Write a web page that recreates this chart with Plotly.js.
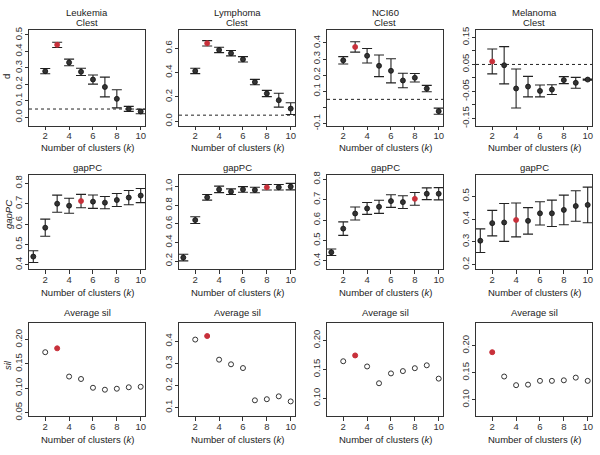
<!DOCTYPE html>
<html><head><meta charset="utf-8">
<script src="https://cdn.plot.ly/plotly-3.0.1.min.js"></script>
<style>html,body{margin:0;padding:0;background:#fff}#chart{width:600px;height:455px}</style>
</head><body><div id="chart"></div>
<script>
const datasets = ['Leukemia', 'Lymphoma', 'NCI60', 'Melanoma'];
const kClest = [2, 3, 4, 5, 6, 7, 8, 9, 10];
const kGap = [1, 2, 3, 4, 5, 6, 7, 8, 9, 10];
const kSil = [2, 3, 4, 5, 6, 7, 8, 9, 10];

// Clest statistic d (with error half-widths)
const leuClest = [0.28, 0.44, 0.333, 0.276, 0.229, 0.184, 0.112, 0.051, 0.035];
const leuClestErr = [0.016, 0.016, 0.02, 0.022, 0.028, 0.06, 0.055, 0.015, 0.014];
const lymClest = [0.413, 0.641, 0.586, 0.559, 0.509, 0.322, 0.228, 0.173, 0.104];
const lymClestErr = [0.022, 0.022, 0.022, 0.022, 0.022, 0.022, 0.026, 0.057, 0.048];
const nciClest = [0.292, 0.375, 0.32, 0.258, 0.227, 0.167, 0.184, 0.117, -0.023];
const nciClestErr = [0.023, 0.032, 0.045, 0.067, 0.075, 0.045, 0.026, 0.02, 0.019];
const melClest = [0.061, 0.047, -0.039, -0.032, -0.048, -0.043, -0.008, -0.018, -0.006];
const melClestErr = [0.046, 0.069, 0.072, 0.038, 0.022, 0.018, 0.013, 0.02, 0.002];
const clestThreshold = [0.05, 0.05, 0.05, 0.05];

// gapPC statistic
const leuGap = [0.44, 0.582, 0.70, 0.69, 0.713, 0.71, 0.705, 0.718, 0.73, 0.74];
const leuGapErr = [0.029, 0.042, 0.042, 0.037, 0.033, 0.033, 0.03, 0.032, 0.035, 0.035];
const lymGap = [0.237, 0.64, 0.885, 0.97, 0.946, 0.97, 0.964, 0.993, 0.993, 1.0];
const lymGapErr = [0.036, 0.036, 0.03, 0.035, 0.03, 0.03, 0.03, 0.03, 0.03, 0.035];
const nciGap = [0.442, 0.558, 0.632, 0.657, 0.665, 0.693, 0.688, 0.704, 0.729, 0.729];
const nciGapErr = [0.016, 0.033, 0.032, 0.029, 0.032, 0.031, 0.031, 0.031, 0.029, 0.03];
const melGap = [0.305, 0.382, 0.385, 0.396, 0.392, 0.425, 0.425, 0.44, 0.457, 0.462];
const melGapErr = [0.052, 0.056, 0.083, 0.074, 0.058, 0.051, 0.058, 0.065, 0.067, 0.078];

// Average silhouette width
const leuSil = [0.174, 0.182, 0.124, 0.119, 0.101, 0.097, 0.099, 0.102, 0.103];
const lymSil = [0.408, 0.424, 0.317, 0.296, 0.279, 0.133, 0.138, 0.151, 0.128];
const nciSil = [0.164, 0.174, 0.155, 0.126, 0.143, 0.147, 0.152, 0.157, 0.134];
const melSil = [0.188, 0.143, 0.127, 0.128, 0.135, 0.135, 0.136, 0.141, 0.135];

// selected number of clusters (highlighted in red)
const bestClest = [3, 3, 3, 2];
const bestGap = [5, 8, 8, 4];
const bestSil = [3, 3, 3, 2];

// axis settings
const xTicks = [2, 4, 6, 8, 10];
const xRange = [0.64, 10.36];
const clestRanges = [[-0.05, 0.53], [-0.035, 0.75], [-0.112, 0.48], [-0.176, 0.1775]];
const clestTicks = [[0, 0.1, 0.2, 0.3, 0.4, 0.5], [0, 0.2, 0.4, 0.6], [-0.1, 0, 0.1, 0.2, 0.3, 0.4], [-0.15, -0.1, -0.05, 0, 0.05, 0.1, 0.15]];
const clestTickText = [['0.0', '0.1', '0.2', '0.3', '0.4', '0.5'], ['0.0', '0.2', '0.4', '0.6'], ['-0.1', '', '0.1', '0.2', '0.3', '0.4'], ['-0.15', '', '-0.05', '', '0.05', '', '0.15']];
const gapRanges = [[0.379, 0.841], [0.114, 1.125], [0.36, 0.821], [0.181, 0.593]];
const gapTicks = [[0.4, 0.5, 0.6, 0.7, 0.8], [0.2, 0.4, 0.6, 0.8, 1.0], [0.4, 0.5, 0.6, 0.7, 0.8], [0.2, 0.3, 0.4, 0.5, 0.6]];
const gapTickText = [['0.4', '0.5', '0.6', '0.7', '0.8'], ['0.2', '0.4', '0.6', '0.8', '1.0'], ['0.4', '0.5', '0.6', '0.7', '0.8'], ['0.2', '0.3', '0.4', '0.5', '0.6']];
const silRanges = [[0.043, 0.234], [0.062, 0.483], [0.0695, 0.23], [0.07, 0.242]];
const silTicks = [[0.05, 0.1, 0.15, 0.2, 0.25], [0.1, 0.2, 0.3, 0.4], [0.1, 0.15, 0.2], [0.1, 0.15, 0.2, 0.25]];
const silTickText = [['0.05', '0.10', '0.15', '0.20', '0.25'], ['0.1', '0.2', '0.3', '0.4'], ['0.10', '0.15', '0.20'], ['0.10', '0.15', '0.20', '0.25']];

const clestVals = [leuClest, lymClest, nciClest, melClest];
const clestErrs = [leuClestErr, lymClestErr, nciClestErr, melClestErr];
const gapVals = [leuGap, lymGap, nciGap, melGap];
const gapErrs = [leuGapErr, lymGapErr, nciGapErr, melGapErr];
const silVals = [leuSil, lymSil, nciSil, melSil];

// layout geometry (pixels)
const W = 600, H = 455;
const colLeft = [29, 179, 327, 476];
const panelW = 116;
const rowTop = [30, 175, 323];
const rowBottom = [125.5, 269, 416];

const RED = '#c8303a';
const DARK = '#333333';
const FONT = '"Liberation Sans", Arial, sans-serif';
const TICKFONT = {family: FONT, size: 9.5, color: DARK};
const TITLEFONT = {family: FONT, size: 9.5, color: '#222'};

const traces = [];
const layout = {
  width: W, height: H,
  margin: {l: 0, r: 0, t: 0, b: 0},
  paper_bgcolor: '#fff', plot_bgcolor: '#fff',
  showlegend: false,
  font: {family: FONT, size: 9.5, color: DARK},
  annotations: [], shapes: []
};

function axisName(idx, letter) { return letter + 'axis' + (idx === 1 ? '' : idx); }
function axisRef(idx, letter) { return letter + (idx === 1 ? '' : idx); }

const rowsData = [
  {k: kClest, vals: clestVals, errs: clestErrs, best: bestClest, ranges: clestRanges, ticks: clestTicks, text: clestTickText, open: false},
  {k: kGap, vals: gapVals, errs: gapErrs, best: bestGap, ranges: gapRanges, ticks: gapTicks, text: gapTickText, open: false},
  {k: kSil, vals: silVals, errs: null, best: bestSil, ranges: silRanges, ticks: silTicks, text: silTickText, open: true}
];

rowsData.forEach((row, r) => {
  for (let c = 0; c < 4; c++) {
    const idx = r * 4 + c + 1;
    const xa = axisRef(idx, 'x'), ya = axisRef(idx, 'y');
    const colors = row.k.map(k => k === row.best[c] ? RED : DARK);
    const symbols = row.k.map(k => row.open ? (k === row.best[c] ? 'circle' : 'circle-open') : 'circle');
    const tr = {
      type: 'scatter', mode: 'markers', x: row.k, y: row.vals[c],
      xaxis: xa, yaxis: ya,
      marker: {size: 5, color: colors, symbol: symbols,
               line: {width: row.open ? 1 : 0.8, color: row.open ? colors : row.k.map(k => k === row.best[c] ? RED : '#111')}},
      hoverinfo: 'x+y'
    };
    if (row.errs) {
      tr.error_y = {type: 'data', array: row.errs[c], visible: true, color: '#222', thickness: 1.1, width: 5};
    }
    traces.push(tr);

    layout[axisName(idx, 'x')] = {
      domain: [colLeft[c] / W, (colLeft[c] + panelW) / W],
      anchor: ya, range: xRange, tickvals: xTicks, ticktext: xTicks.map(String),
      ticks: 'outside', ticklen: 3.5, tickwidth: 1, tickcolor: '#333',
      ticklabelstandoff: -2,
      showline: true, mirror: true, linecolor: '#333', linewidth: 1,
      showgrid: false, zeroline: false,
      tickfont: TICKFONT
    };
    layout[axisName(idx, 'y')] = {
      domain: [1 - rowBottom[r] / H, 1 - rowTop[r] / H],
      anchor: xa, range: row.ranges[c], tickvals: row.ticks[c], ticktext: row.text[c],
      ticks: 'outside', ticklen: 3.5, tickwidth: 1, tickcolor: '#333', tickangle: -90,
      ticklabelstandoff: -1,
      showline: true, mirror: true, linecolor: '#333', linewidth: 1,
      showgrid: false, zeroline: false,
      tickfont: TICKFONT
    };

    const cx = (colLeft[c] + panelW / 2) / W;
    // panel titles
    if (r === 0) {
      layout.annotations.push({text: datasets[c], x: cx, y: 1 - 12 / H, xref: 'paper', yref: 'paper', showarrow: false, xanchor: 'center', yanchor: 'middle', font: TITLEFONT});
      layout.annotations.push({text: 'Clest', x: cx, y: 1 - 22.5 / H, xref: 'paper', yref: 'paper', showarrow: false, xanchor: 'center', yanchor: 'middle', font: TITLEFONT});
      layout.shapes.push({type: 'line', xref: xa + ' domain', yref: ya, x0: 0, x1: 1, y0: clestThreshold[c], y1: clestThreshold[c], line: {color: '#222', width: 1, dash: 'dot'}});
    } else {
      layout.annotations.push({text: r === 1 ? 'gapPC' : 'Average sil', x: cx, y: 1 - (r === 1 ? 167 : 312) / H, xref: 'paper', yref: 'paper', showarrow: false, xanchor: 'center', yanchor: 'middle', font: TITLEFONT});
    }
    // x axis titles
    const xtY = [147.5, 292.5, 439.5][r];
    layout.annotations.push({text: 'Number of clusters (<i>k</i>)', x: cx, y: 1 - xtY / H, xref: 'paper', yref: 'paper', showarrow: false, xanchor: 'center', yanchor: 'middle', font: TITLEFONT});
  }
});

// y axis titles (first column only)
const yTitles = ['d', '<i>gapPC</i>', '<i>sil</i>'];
const yTitlePos = [[6, 77], [8, 215], [7, 365]];
yTitles.forEach((t, i) => {
  layout.annotations.push({text: t, x: yTitlePos[i][0] / W, y: 1 - yTitlePos[i][1] / H, xref: 'paper', yref: 'paper', showarrow: false, textangle: -90, xanchor: 'center', yanchor: 'middle', font: TITLEFONT});
});

Plotly.newPlot('chart', traces, layout, {staticPlot: true, displayModeBar: false});
</script>
</body></html>
